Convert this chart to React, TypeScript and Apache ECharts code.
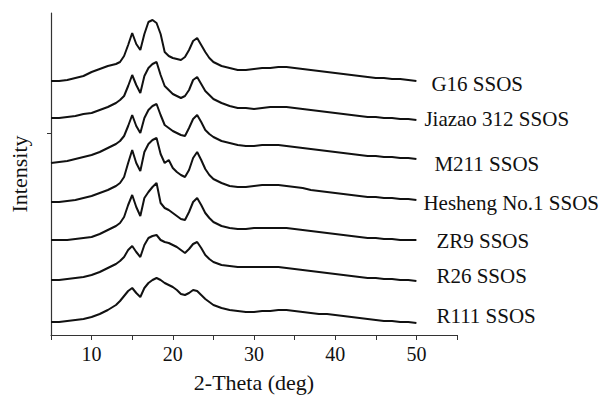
import React, { useEffect, useRef } from "react";
import * as echarts from "echarts";

const twoTheta = [
  5, 6, 7, 8, 9, 10, 11, 12, 13,
  13.5, 14, 14.5, 15, 15.5, 16, 16.5, 17, 17.5, 18, 18.5, 19, 19.5, 20, 20.5, 21, 21.5, 22, 22.5, 23, 23.5, 24, 24.5, 25,
  26, 27, 28, 29, 30, 31, 32, 33, 34, 35, 36, 37, 38, 39, 40, 41, 42, 43, 44, 45, 46, 47, 48, 49, 50,
];

const seriesNames = [
  "G16 SSOS",
  "Jiazao 312 SSOS",
  "M211 SSOS",
  "Hesheng No.1 SSOS",
  "ZR9 SSOS",
  "R26 SSOS",
  "R111 SSOS",
];

const g16 = [
  254, 254, 255, 257, 259, 263, 266, 269, 271,
  273, 279, 290, 302, 291, 285, 301, 313, 315, 312, 301, 283, 279, 277, 276, 275, 278, 285, 294, 297, 290, 283, 277, 273,
  269, 267, 265, 265, 266, 267, 267, 268, 268, 267, 266, 265, 264, 263, 262, 261, 260, 259, 258, 257, 257, 256, 256, 255, 254,
];
const jiazao312 = [
  217, 217, 218, 219, 221, 222, 225, 228, 232,
  235, 239, 249, 260, 250, 242, 259, 267, 271, 273, 260, 249, 245, 241, 239, 237, 239, 245, 255, 258, 251, 244, 240, 236,
  232, 229, 227, 227, 226, 227, 228, 228, 228, 227, 226, 225, 224, 223, 222, 221, 220, 219, 218, 218, 217, 217, 216, 216, 215,
];
const m211 = [
  172, 173, 174, 176, 178, 180, 183, 187, 191,
  194, 199, 209, 220, 209, 202, 217, 225, 229, 231, 220, 210, 207, 204, 202, 200, 199, 207, 216, 220, 213, 205, 201, 198,
  194, 192, 190, 189, 189, 190, 190, 190, 189, 188, 187, 186, 185, 184, 183, 182, 181, 180, 179, 179, 178, 178, 177, 177, 176,
];
const hesheng1 = [
  133, 133, 134, 135, 137, 139, 142, 145, 149,
  152, 158, 172, 185, 172, 164, 183, 191, 195, 197, 181, 172, 175, 167, 163, 160, 158, 165, 177, 183, 175, 166, 160, 156,
  152, 149, 148, 148, 149, 150, 150, 150, 149, 148, 147, 145, 144, 143, 142, 141, 140, 139, 138, 138, 137, 137, 136, 136, 135,
];
const zr9 = [
  95, 95, 95, 96, 97, 98, 101, 105, 109,
  112, 118, 130, 140, 128, 119, 137, 143, 148, 152, 132, 127, 125, 122, 119, 116, 115, 123, 133, 137, 130, 122, 117, 113,
  109, 107, 106, 106, 107, 107, 107, 107, 107, 106, 105, 104, 103, 102, 101, 100, 99, 98, 97, 97, 96, 96, 95, 95, 95,
];
const r26 = [
  55, 55, 56, 57, 58, 60, 63, 67, 71,
  74, 78, 85, 89, 83, 78, 90, 97, 99, 100, 95, 93, 92, 90, 88, 85, 82, 86, 91, 93, 87, 80, 76, 73,
  70, 69, 68, 68, 68, 68, 68, 68, 67, 66, 65, 64, 63, 62, 61, 60, 59, 58, 57, 57, 56, 56, 55, 55, 54,
];
const r111 = [
  13, 13, 14, 15, 16, 18, 21, 25, 30,
  34, 39, 44, 47, 42, 38, 47, 52, 55, 57, 55, 52, 50, 48, 45, 41, 40, 42, 45, 44, 40, 36, 33, 30,
  27, 25, 24, 23, 23, 24, 24, 25, 25, 24, 23, 22, 21, 21, 20, 19, 18, 17, 16, 15, 14, 14, 13, 13, 12,
];

const allValues = [g16, jiazao312, m211, hesheng1, zr9, r26, r111];

const xTickLabels = [10, 20, 30, 40, 50];

const labelOffsets: [number, number][] = [
  [15, 3],
  [8, -1],
  [18, 5],
  [7, 3],
  [20, 1],
  [20, -5],
  [20, -7],
];

const FONT = "'Liberation Serif', 'Times New Roman', serif";

export default function App() {
  const ref = useRef<HTMLDivElement>(null);
  useEffect(() => {
    if (!ref.current) return;
    const chart = echarts.init(ref.current, undefined, { renderer: "svg" });
    const series = allValues.map((vals, i) => ({
      name: seriesNames[i],
      type: "line",
      data: vals.map((v, j) => [twoTheta[j], v]),
      showSymbol: false,
      lineStyle: { color: "#111", width: 2 },
      itemStyle: { color: "#111" },
      endLabel: {
        show: true,
        formatter: seriesNames[i],
        distance: 0,
        offset: labelOffsets[i],
        align: "left",
        verticalAlign: "middle",
        color: "#111",
        fontFamily: FONT,
        fontSize: 21,
      },
      emphasis: { disabled: true },
    }));
    chart.setOption({
      animation: false,
      backgroundColor: "#fff",
      grid: { left: 48, right: 145, top: 13, bottom: 68 },
      xAxis: {
        type: "value",
        min: 5,
        max: 55,
        interval: 5,
        name: "2-Theta (deg)",
        nameLocation: "middle",
        nameGap: 36,
        nameTextStyle: { color: "#111", fontFamily: FONT, fontSize: 22 },
        axisLine: { lineStyle: { color: "#333", width: 1.2 } },
        axisTick: { show: true, length: 5, lineStyle: { color: "#333" } },
        axisLabel: {
          color: "#111",
          fontFamily: FONT,
          fontSize: 20,
          margin: 9,
          formatter: (v: number) => (xTickLabels.includes(v) ? String(v) : ""),
        },
        splitLine: { show: false },
      },
      yAxis: {
        type: "value",
        min: 0,
        max: 322,
        name: "Intensity",
        nameLocation: "middle",
        nameGap: 21,
        nameTextStyle: { color: "#111", fontFamily: FONT, fontSize: 22 },
        axisLine: { show: true, lineStyle: { color: "#333", width: 1.2 } },
        axisTick: { show: true, length: 4, customValues: [202], lineStyle: { color: "#333" } },
        axisLabel: { show: false },
        splitLine: { show: false },
      },
      series,
    });
    return () => chart.dispose();
  }, []);
  return (
    <div
      ref={ref}
      style={{ position: "fixed", left: 0, top: 0, width: 602, height: 403 }}
    />
  );
}
